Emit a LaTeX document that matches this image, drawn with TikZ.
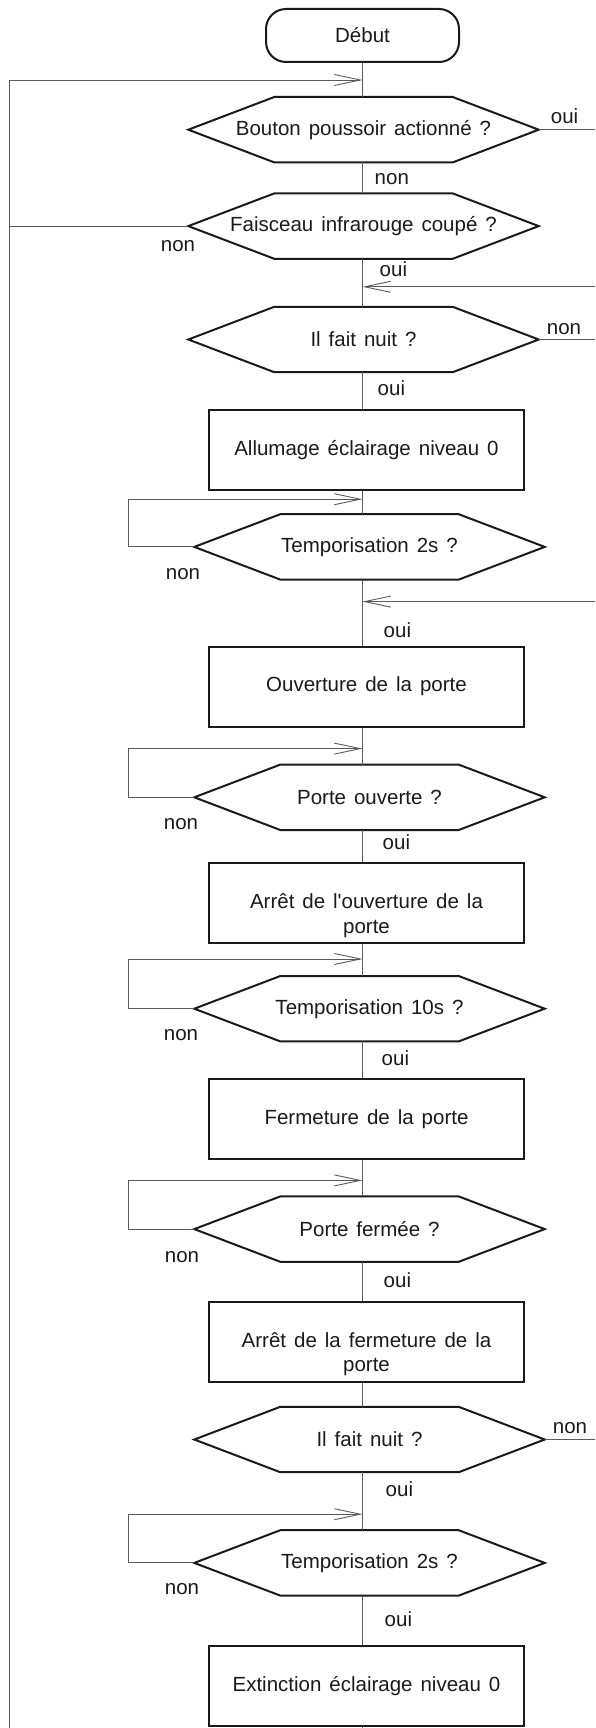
\documentclass[tikz,border=0pt]{standalone}
\usepackage{fontspec}
\setmainfont{Liberation Sans}[WordSpace=1.4]
\usepackage{tikz}
\usetikzlibrary{arrows.meta,positioning,calc}
\definecolor{ink}{HTML}{1A1A1A}
\definecolor{wiregray}{HTML}{5A5A5A}

\begin{document}
\begin{tikzpicture}[x=1pt, y=1pt,
    font=\fontsize{20.5}{24.5}\selectfont, text=ink,
    >={Straight Barb[length=26pt,width=11pt]},
    startbox/.style={draw=ink, line width=2pt, rounded corners=20pt,
                     minimum width=193pt, minimum height=53pt, inner sep=0pt},
    flowbox/.style={draw=ink, line width=2pt, minimum width=315pt,
                    minimum height=80pt, inner sep=0pt},
    twoline/.style={text height=11pt, text depth=0pt},
    hexa/.style={minimum width=350pt, minimum height=65pt, inner sep=0pt},
    hexline/.style={draw=ink, line width=2pt, line join=miter},
    wire/.style={draw=wiregray, line width=0.9pt},
    lbl/.style={inner sep=0pt}
  ]
  \useasboundingbox (0,0) rectangle (595,-1728);

  % main column
  \node[startbox] (debut) at (362.5,-35.5) {Début};
  \node[hexa, below=34pt of debut, xshift=1pt] (q1) {Bouton poussoir actionné ?};
  \node[hexa, below=31pt of q1] (q2) {Faisceau infrarouge coupé ?};
  \node[hexa, below=48pt of q2] (q3) {Il fait nuit ?};
  \node[flowbox, below=37pt of q3, xshift=3pt] (b1) {Allumage éclairage niveau 0};
  \node[hexa, below=23pt of b1, xshift=3pt] (q4) {Temporisation 2s ?};
  \node[flowbox, below=66pt of q4, xshift=-3pt] (b2) {Ouverture de la porte};
  \node[hexa, below=37pt of b2, xshift=3pt] (q5) {Porte ouverte ?};
  \node[flowbox, twoline, below=32pt of q5, xshift=-3pt] (b3)
    {\begin{tabular}[t]{@{}c@{}}Arrêt de l\textquotesingle ouverture de la\\porte\end{tabular}};
  \node[hexa, below=32pt of b3, xshift=3pt] (q6) {Temporisation 10s ?};
  \node[flowbox, below=37pt of q6, xshift=-3pt] (b4) {Fermeture de la porte};
  \node[hexa, below=36pt of b4, xshift=3pt] (q7) {Porte fermée ?};
  \node[flowbox, twoline, below=39pt of q7, xshift=-3pt] (b5)
    {\begin{tabular}[t]{@{}c@{}}Arrêt de la fermeture de la\\porte\end{tabular}};
  \node[hexa, below=24pt of b5, xshift=3pt] (q8) {Il fait nuit ?};
  \node[hexa, below=58pt of q8] (q9) {Temporisation 2s ?};
  \node[flowbox, below=49pt of q9, xshift=-3pt] (b6) {Extinction éclairage niveau 0};

  \foreach \n in {q1,q2,q3,q4,q5,q6,q7,q8,q9}
    \draw[hexline] (\n.west) -- ([xshift=86pt]\n.north west) -- ([xshift=-86pt]\n.north east)
      -- (\n.east) -- ([xshift=-86pt]\n.south east) -- ([xshift=86pt]\n.south west) -- cycle;

  % edges and merge points
  \coordinate (lft) at (9.5,-1728);
  \coordinate (rgt) at (595,0);
  \coordinate (bot) at (debut |- lft);
  \coordinate (m0) at ($(debut.south)+(0,-17)$);
  \coordinate (m1) at ($(q2.south -| debut)+(0,-28)$);
  \coordinate (m2) at ($(b1.south -| debut)+(0,-8)$);
  \coordinate (m3) at ($(q4.south -| debut)+(0,-22)$);
  \coordinate (m4) at ($(b2.south -| debut)+(0,-21)$);
  \coordinate (m5) at ($(b3.south -| debut)+(0,-15)$);
  \coordinate (m6) at ($(b4.south -| debut)+(0,-20)$);
  \coordinate (m7) at ($(q8.south -| debut)+(0,-42)$);

  \foreach \a/\b in {debut/q1,q1/q2,q2/q3,q3/b1,b1/q4,q4/b2,b2/q5,q5/b3,b3/q6,
                     q6/b4,b4/q7,q7/b5,b5/q8,q8/q9,q9/b6}
    \draw[wire] (\a.south -| debut) -- (\b.north -| debut);
  \draw[wire] (b6.south -| debut) -- (bot);

  \draw[wire,->] (lft) |- (m0);
  \draw[wire] (q2.west) -- (q2.west -| lft);
  \draw[wire] (q1.east) -- (q1.east -| rgt);
  \draw[wire,->] (m1 -| rgt) -- (m1);
  \draw[wire] (q3.east) -- (q3.east -| rgt);
  \draw[wire,->] (m3 -| rgt) -- (m3);
  \draw[wire] (q8.east) -- (q8.east -| rgt);
  \foreach \n/\m in {q4/m2,q5/m4,q6/m5,q7/m6,q9/m7}
    \draw[wire,->] (\n.west) -- ++(-66,0) |- (\m);

  % oui / non
  \node[lbl, anchor=base west] (l1) at ($(q1.east)+(12,6.6)$) {oui};
  \node[lbl, anchor=base west] (l2) at ($(q1.south -| debut)+(12,-22)$) {non};
  \node[lbl, anchor=base east] (l3) at ($(q2.west)+(7,-25)$) {non};
  \node[lbl, anchor=base west] (l4) at ($(q2.south -| debut)+(17,-18)$) {oui};
  \node[lbl, anchor=base west] (l5) at ($(q3.east)+(8,5)$) {non};
  \node[lbl, anchor=base west] (l6) at ($(q3.south -| debut)+(15,-23)$) {oui};
  \node[lbl, anchor=base east] (l7) at ($(q4.west)+(6,-33)$) {non};
  \node[lbl, anchor=base west] (l8) at ($(b2.north -| debut)+(21,8)$) {oui};
  \node[lbl, anchor=base east] (l9) at ($(q5.west)+(4,-32)$) {non};
  \node[lbl, anchor=base west] (l10) at ($(q5.south -| debut)+(20,-19)$) {oui};
  \node[lbl, anchor=base east] (l11) at ($(q6.west)+(4,-31.5)$) {non};
  \node[lbl, anchor=base west] (l12) at ($(q6.south -| debut)+(19,-24)$) {oui};
  \node[lbl, anchor=base east] (l13) at ($(q7.west)+(5,-33)$) {non};
  \node[lbl, anchor=base west] (l14) at ($(q7.south -| debut)+(21,-26)$) {oui};
  \node[lbl, anchor=base west] (l15) at ($(q8.east)+(8,6)$) {non};
  \node[lbl, anchor=base west] (l16) at ($(q8.south -| debut)+(23,-24)$) {oui};
  \node[lbl, anchor=base east] (l17) at ($(q9.west)+(5,-32)$) {non};
  \node[lbl, anchor=base west] (l18) at ($(q9.south -| debut)+(22,-31)$) {oui};
\end{tikzpicture}
\end{document}
